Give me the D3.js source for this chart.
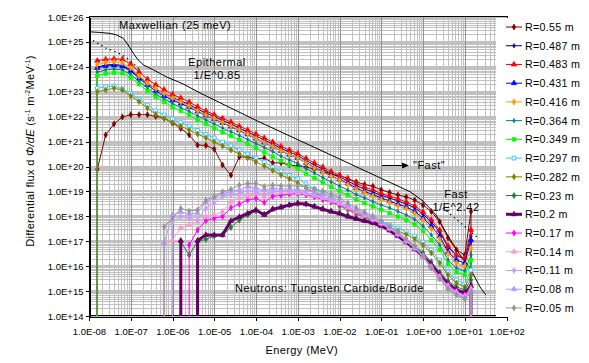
<!DOCTYPE html>
<html>
<head>
<meta charset="utf-8">
<script src="https://cdn.jsdelivr.net/npm/d3@7"></script>
<style>
  body { margin: 0; background: #fff; }
  svg { display: block; font-family: Arial, "Liberation Sans", sans-serif; }
</style>
</head>
<body>
<svg id="chart" width="589" height="363"></svg>
<script>
// energy grid (MeV), shared by all radius series
const energies = [1.0e-8, 1.58e-8, 2.51e-8, 3.98e-8, 6.31e-8, 1.0e-7, 1.58e-7, 2.51e-7, 3.98e-7, 6.31e-7,
  1.0e-6, 1.58e-6, 2.51e-6, 3.98e-6, 6.31e-6, 1.0e-5, 1.58e-5, 2.51e-5, 3.98e-5, 6.31e-5,
  1.0e-4, 1.58e-4, 2.51e-4, 3.98e-4, 6.31e-4, 1.0e-3, 1.58e-3, 2.51e-3, 3.98e-3, 6.31e-3,
  1.0e-2, 1.58e-2, 2.51e-2, 3.98e-2, 6.31e-2, 0.1, 0.158, 0.251, 0.398, 0.631,
  1.0, 1.58, 2.51, 3.98, 6.31, 10.0, 14.1, 15.0];

// flux values; 0 = empty bin (drops to the axis), null = no point
const r055 = [0, 7.7e19, 1.85e21, 5.1e21, 9.7e21, 1.2e22, 1.2e22, 1.2e22, 1.03e22, 8.8e21, 5.6e21, 3.35e21, 1.85e21, 7.3e20, 7.0e20, 5.0e20, 1.15e20, 4.5e19, 2.4e20, 2.4e20, 2.0e20, 2.2e20, 1.4e20, 1.4e20, 1.15e20, 1.05e20, 9.5e19, 7.9e19, 6.6e19, 5.0e19, 4.2e19, 3.3e19, 2.4e19, 1.9e19, 1.6e19, 1.15e19, 9.0e18, 7.2e18, 6.0e18, 4.5e18, 2.85e18, 1.55e18, 6.1e17, 1.35e17, 4.5e16, 2.8e16, 1.55e18, 0];
const r0487 = [0, 9.8e23, 1.19e24, 1.24e24, 1.14e24, 7.5e23, 3.9e23, 2.2e23, 1.3e23, 8.5e22, 5.9e22, 4.3e22, 3.1e22, 2.0e22, 1.4e22, 1.02e22, 7.0e21, 5.1e21, 3.5e21, 2.4e21, 1.68e21, 1.16e21, 8.0e20, 5.3e20, 3.8e20, 2.77e20, 1.74e20, 1.16e20, 7.9e19, 5.2e19, 3.8e19, 2.6e19, 1.73e19, 1.25e19, 9.5e18, 6.9e18, 5.5e18, 4.1e18, 3.1e18, 2.2e18, 1.24e18, 5.9e17, 2.35e17, 5.9e16, 2.6e16, 1.95e16, 1.6e17, 0];
const r0483 = [0, 1.75e24, 2.0e24, 2.1e24, 2.0e24, 1.3e24, 6.2e23, 3.2e23, 1.9e23, 1.2e23, 7.8e22, 5.6e22, 3.9e22, 2.5e22, 1.7e22, 1.2e22, 8.5e21, 6.1e21, 4.2e21, 2.9e21, 2.0e21, 1.4e21, 9.6e20, 6.4e20, 4.6e20, 3.3e20, 2.1e20, 1.4e20, 9.5e19, 6.3e19, 4.5e19, 3.2e19, 2.1e19, 1.5e19, 1.15e19, 8.2e18, 6.5e18, 5.0e18, 3.8e18, 2.6e18, 1.5e18, 7.2e17, 2.85e17, 6.5e16, 2.8e16, 2.1e16, 2.85e17, 0];
const r0431 = [0, 9.0e23, 1.08e24, 1.14e24, 1.04e24, 6.8e23, 3.4e23, 1.87e23, 1.07e23, 6.8e22, 4.7e22, 3.4e22, 2.45e22, 1.62e22, 1.12e22, 8.1e21, 5.6e21, 4.0e21, 2.8e21, 1.93e21, 1.33e21, 9.2e20, 6.3e20, 4.2e20, 3.0e20, 2.2e20, 1.38e20, 9.1e19, 6.3e19, 4.2e19, 3.0e19, 2.1e19, 1.37e19, 9.9e18, 7.5e18, 5.5e18, 4.1e18, 3.1e18, 2.4e18, 1.57e18, 8.6e17, 4.1e17, 1.6e17, 3.7e16, 1.77e16, 1.34e16, 1.12e17, 0];
const r0416 = [0, 1.24e24, 1.47e24, 1.6e24, 1.43e24, 9.0e23, 4.3e23, 2.2e23, 1.35e23, 8.5e22, 5.6e22, 3.9e22, 2.7e22, 1.7e22, 1.17e22, 8.4e21, 5.8e21, 4.2e21, 2.9e21, 2.0e21, 1.33e21, 9.2e20, 6.3e20, 4.2e20, 3.0e20, 2.2e20, 1.38e20, 8.7e19, 6.0e19, 4.0e19, 2.9e19, 1.9e19, 1.25e19, 9.0e18, 6.5e18, 4.7e18, 3.6e18, 2.6e18, 2.0e18, 1.3e18, 7.1e17, 3.1e17, 1.23e17, 3.1e16, 1.34e16, 1.02e16, 5.4e16, 0];
const r0364 = [0, 6.2e23, 7.5e23, 8.2e23, 7.5e23, 4.9e23, 2.6e23, 1.42e23, 8.1e22, 5.1e22, 3.4e22, 2.3e22, 1.62e22, 1.07e22, 7.4e21, 5.1e21, 3.5e21, 2.5e21, 1.76e21, 1.21e21, 8.4e20, 5.8e20, 4.0e20, 2.6e20, 1.83e20, 1.32e20, 8.3e19, 5.5e19, 3.6e19, 2.4e19, 1.65e19, 1.14e19, 7.5e18, 5.5e18, 3.9e18, 2.85e18, 2.2e18, 1.57e18, 1.14e18, 7.5e17, 4.1e17, 1.8e17, 7.1e16, 1.77e16, 8.4e15, 6.4e15, 2.8e16, 0];
const r0349 = [0, 4.4e23, 5.2e23, 5.8e23, 5.5e23, 3.7e23, 2.0e23, 1.08e23, 6.2e22, 3.9e22, 2.45e22, 1.7e22, 1.17e22, 7.4e21, 5.1e21, 3.5e21, 2.4e21, 1.68e21, 1.16e21, 8.0e20, 5.5e20, 3.65e20, 2.5e20, 1.67e20, 1.16e20, 8.3e19, 5.2e19, 3.46e19, 2.3e19, 1.5e19, 1.04e19, 7.2e18, 4.7e18, 3.4e18, 2.5e18, 1.8e18, 1.36e18, 9.8e17, 7.1e17, 4.7e17, 2.6e17, 1.12e17, 4.5e16, 1.22e16, 5.8e15, 4.4e15, 1.77e16, 0];
const r0297 = [0, 1.37e23, 1.6e23, 1.7e23, 1.3e23, 8.7e22, 5.1e22, 2.95e22, 1.7e22, 1.17e22, 8.1e21, 5.8e21, 4.2e21, 2.8e21, 1.93e21, 1.4e21, 9.6e20, 6.7e20, 4.6e20, 3.2e20, 2.2e20, 1.52e20, 9.5e19, 6.3e19, 4.4e19, 3.2e19, 2.0e19, 1.25e19, 8.3e18, 5.5e18, 3.4e18, 2.4e18, 1.64e18, 1.19e18, 8.6e17, 6.2e17, 4.7e17, 3.4e17, 2.45e17, 1.6e17, 9.3e16, 4.5e16, 1.77e16, 5.8e15, 2.8e15, 1.93e15, 7.0e15, 0];
const r0282 = [0, 1.01e23, 1.18e23, 1.37e23, 1.18e23, 6.8e22, 4.0e22, 2.2e22, 1.25e22, 8.4e21, 5.8e21, 4.2e21, 2.9e21, 2.0e21, 1.4e21, 9.6e20, 6.7e20, 4.6e20, 3.2e20, 2.2e20, 1.52e20, 1.05e20, 6.9e19, 4.56e19, 3.2e19, 2.2e19, 1.37e19, 9.0e18, 6.0e18, 3.9e18, 2.6e18, 1.8e18, 1.24e18, 9.0e17, 6.5e17, 4.7e17, 3.6e17, 2.6e17, 1.87e17, 1.23e17, 7.1e16, 3.4e16, 1.34e16, 4.4e15, 2.1e15, 1.46e15, 4.4e15, 0];
const r023 = [null, null, null, null, null, null, null, null, null, null, 0, 9.6e16, 2.8e16, 9.6e16, 1.2e17, 1.6e17, 1.8e17, 3.6e17, 7.1e17, 1.14e18, 1.64e18, 1.24e18, 2.0e18, 2.4e18, 2.85e18, 3.3e18, 3.1e18, 2.6e18, 2.05e18, 1.64e18, 1.36e18, 1.08e18, 8.6e17, 7.1e17, 5.9e17, 4.5e17, 3.1e17, 1.96e17, 1.12e17, 6.4e16, 3.4e16, 1.48e16, 5.8e15, 2.55e15, 1.46e15, 1.12e15, 2.8e15, 0];
const r02 = [null, null, null, null, null, null, null, null, null, null, 0, 1.06e17, 0, 1.06e17, 1.8e17, 1.8e17, 1.8e17, 6.5e17, 9.4e17, 1.32e18, 1.8e18, 1.14e18, 1.92e18, 2.3e18, 2.85e18, 3.3e18, 3.1e18, 2.45e18, 1.92e18, 1.55e18, 1.3e18, 9.8e17, 7.8e17, 6.5e17, 5.4e17, 4.1e17, 2.7e17, 1.6e17, 9.3e16, 4.9e16, 2.6e16, 1.12e16, 4.4e15, 1.93e15, 1.12e15, 8.4e14, 1.6e15, 0];
const r017 = [null, null, null, null, null, null, null, null, null, null, null, 0, 7.1e16, 2.8e17, 6.7e17, 8.3e17, 9.7e17, 2.2e18, 3.1e18, 4.5e18, 5.2e18, 3.6e18, 6.3e18, 6.9e18, 7.9e18, 8.3e18, 7.2e18, 6.0e18, 4.7e18, 3.75e18, 2.85e18, 2.05e18, 1.43e18, 1.03e18, 7.1e17, 4.9e17, 3.1e17, 1.8e17, 9.8e16, 5.1e16, 2.6e16, 1.02e16, 4.0e15, 1.76e15, 1.0e15, 7.0e14, 1.33e15, 0];
const r014 = [null, null, null, null, null, null, null, null, null, 0, 1.12e17, 3.4e17, 4.5e17, 6.1e17, 9.7e17, 1.14e18, 1.55e18, 3.9e18, 5.3e18, 6.3e18, 8.4e18, 6.1e18, 9.7e18, 9.5e18, 9.5e18, 9.0e18, 8.3e18, 6.9e18, 5.5e18, 4.3e18, 3.3e18, 2.25e18, 1.57e18, 1.08e18, 7.5e17, 5.2e17, 3.25e17, 1.96e17, 1.02e17, 5.4e16, 2.6e16, 9.3e15, 3.7e15, 1.6e15, 9.2e14, 6.3e14, 1.22e15, 0];
const r011 = [null, null, null, null, null, null, null, null, null, 0, 6.1e17, 9.7e17, 8.3e17, 7.1e17, 2.1e18, 3.4e18, 6.1e18, 7.2e18, 8.4e18, 1.04e19, 9.5e18, 7.9e18, 1.04e19, 9.9e18, 9.9e18, 9.5e18, 8.6e18, 7.2e18, 6.0e18, 4.7e18, 3.6e18, 2.5e18, 1.64e18, 1.14e18, 7.8e17, 5.4e17, 3.4e17, 1.96e17, 1.02e17, 5.4e16, 2.35e16, 8.4e15, 3.35e15, 1.46e15, 8.4e14, 5.8e14, 1.12e15, 0];
const r008 = [null, null, null, null, null, null, null, null, 0, 8.5e16, 1.14e18, 1.5e18, 1.24e18, 1.36e18, 3.8e18, 5.5e18, 7.9e18, 1.04e19, 1.14e19, 1.55e19, 1.37e19, 1.14e19, 1.37e19, 1.25e19, 1.25e19, 1.2e19, 1.09e19, 9.5e18, 7.9e18, 6.0e18, 4.3e18, 2.85e18, 1.9e18, 1.3e18, 9.0e17, 5.9e17, 3.7e17, 2.15e17, 1.12e17, 5.9e16, 2.35e16, 8.4e15, 3.05e15, 1.33e15, 7.6e14, 5.3e14, 1.0e15, 0];
const r005 = [null, null, null, null, null, null, null, null, 0, 3.8e17, 8.3e17, 2.1e18, 1.64e18, 1.8e18, 4.5e18, 6.1e18, 9.7e18, 1.22e19, 1.81e19, 2.1e19, 2.1e19, 1.55e19, 1.81e19, 1.65e19, 1.65e19, 1.65e19, 1.51e19, 1.25e19, 1.04e19, 7.9e18, 5.5e18, 3.4e18, 2.2e18, 1.5e18, 1.03e18, 6.5e17, 4.1e17, 2.35e17, 1.23e17, 6.4e16, 2.6e16, 8.4e15, 3.05e15, 1.21e15, 7.0e14, 4.8e14, 9.2e14, 0];

// reference curve: Maxwellian + 1/E^0.85 epithermal + fast fall-off
const refE = [1.0e-8, 1.8e-8, 3.2e-8, 4.6e-8, 6.6e-8, 8.7e-8, 1.15e-7, 1.5e-7, 2.0e-7, 3.5e-7, 7.3e-7, 1.8e-6, 4.6e-6, 1.0e-4, 1.0e-2, 0.49, 1.0, 2.05, 4.0, 7.7, 13.4, 23.2, 32];
const refFlux = [2.55e25, 2.4e25, 2.2e25, 1.9e25, 1.4e25, 7.5e24, 3.5e24, 1.9e24, 1.2e24, 7.5e23, 3.9e23, 2.05e23, 8.9e22, 7.1e21, 2.0e20, 9.7e18, 4.1e18, 1.14e18, 1.6e17, 2.8e16, 8.4e15, 1.46e15, 7.0e14];
// dotted fits
const thermalFitE = [1.0e-8, 1.58e-8, 2.51e-8, 3.98e-8, 6.31e-8, 1.0e-7, 1.58e-7];
const thermalFitFlux = [1.44e25, 9.0e24, 5.7e24, 4.3e24, 3.0e24, 1.7e24, 8.2e23];
const fastFitE = [3.0, 20.7];
const fastFitFlux = [2.2e18, 1.37e17];

const xDecades = d3.range(-8, 3);   // 1E-08 .. 1E+02
const yDecades = d3.range(14, 27);  // 1E+14 .. 1E+26

const series = [
  { name: "R=0.55 m", values: r055, color: "#800000", shape: "diamond" },
  { name: "R=0.487 m", values: r0487, color: "#000080", shape: "diamond", size: 6 },
  { name: "R=0.483 m", values: r0483, color: "#ff0000", shape: "triangle" },
  { name: "R=0.431 m", values: r0431, color: "#0000ff", shape: "triangle" },
  { name: "R=0.416 m", values: r0416, color: "#ff9900", shape: "diamond" },
  { name: "R=0.364 m", values: r0364, color: "#008080", shape: "diamond", size: 6 },
  { name: "R=0.349 m", values: r0349, color: "#00ff00", shape: "square" },
  { name: "R=0.297 m", values: r0297, color: "#33ccff", shape: "square", open: true },
  { name: "R=0.282 m", values: r0282, color: "#808000", shape: "diamond" },
  { name: "R=0.23 m", values: r023, color: "#217a33", shape: "diamond" },
  { name: "R=0.2 m", values: r02, color: "#660066", shape: "triangle", width: 3 },
  { name: "R=0.17 m", values: r017, color: "#ff00ff", shape: "diamond" },
  { name: "R=0.14 m", values: r014, color: "#ff99cc", shape: "triangle" },
  { name: "R=0.11 m", values: r011, color: "#cc99ff", shape: "diamond" },
  { name: "R=0.08 m", values: r008, color: "#b399ff", shape: "triangle" },
  { name: "R=0.05 m", values: r005, color: "#969696", shape: "diamond" }
];

const svg = d3.select("#chart");
const W = 589, H = 363;
const x = d3.scaleLog().domain([1e-8, 1e2]).range([89, 506.5]);
const y = d3.scaleLog().domain([1e14, 1e26]).range([316, 17]);
const [x0, x1] = x.range();
const [yb, yt] = y.range();

svg.append("rect").attr("width", W).attr("height", H).attr("fill", "#fff");

// gridlines
const grid = svg.append("g").attr("shape-rendering", "crispEdges");
xDecades.slice(0, -1).forEach(n => {
  for (let k = 2; k <= 9; k++) {
    const px = Math.round(x(k * Math.pow(10, n))) + 0.5;
    grid.append("line").attr("x1", px).attr("x2", px).attr("y1", yt).attr("y2", yb)
      .attr("stroke", "#c0c0c0");
  }
});
yDecades.slice(0, -1).forEach(n => {
  for (let k = 2; k <= 9; k++) {
    const py = Math.round(y(k * Math.pow(10, n))) + 0.5;
    grid.append("line").attr("x1", x0).attr("x2", x1).attr("y1", py).attr("y2", py)
      .attr("stroke", "#c0c0c0");
  }
});
yDecades.forEach(n => {
  const py = Math.round(y(Math.pow(10, n)));
  grid.append("line").attr("x1", x0).attr("x2", x1).attr("y1", py).attr("y2", py)
    .attr("stroke", "#c0c0c0").attr("stroke-width", 2);
});
xDecades.forEach(n => {
  const px = Math.round(x(Math.pow(10, n))) + 0.5;
  grid.append("line").attr("x1", px).attr("x2", px).attr("y1", yt).attr("y2", yb)
    .attr("stroke", "#909090");
});

// plot border
svg.append("rect").attr("x", x0 + 0.5).attr("y", yt - 0.5).attr("width", x1 - x0).attr("height", yb - yt)
  .attr("fill", "none").attr("stroke", "#000").attr("shape-rendering", "crispEdges");

svg.append("clipPath").attr("id", "plotclip").append("rect")
  .attr("x", x0).attr("y", yt).attr("width", x1 - x0).attr("height", yb - yt);
const plot = svg.append("g").attr("clip-path", "url(#plotclip)");

const line = d3.line();

// split a series into polylines; empty bins drop vertically to the axis
function pieces(vals, xs) {
  const out = [];
  let cur = [];
  vals.forEach((v, i) => {
    if (v == null) { if (cur.length) out.push(cur); cur = []; return; }
    if (v === 0) {
      if (cur.length) { cur.push([cur[cur.length - 1][0], yb + 2]); out.push(cur); cur = []; }
      return;
    }
    const p = [x(xs[i]), y(v)];
    if (!cur.length && i > 0 && vals[i - 1] === 0) cur.push([p[0], yb + 2]);
    cur.push(p);
  });
  if (cur.length) out.push(cur);
  return out;
}

// reference curves
plot.append("path").attr("d", line(refE.map((e, i) => [x(e), y(refFlux[i])])))
  .attr("fill", "none").attr("stroke", "#000").attr("stroke-width", 1);
[[thermalFitE, thermalFitFlux], [fastFitE, fastFitFlux]].forEach(([es, fs]) => {
  plot.append("path").attr("d", line(es.map((e, i) => [x(e), y(fs[i])])))
    .attr("fill", "none").attr("stroke", "#000").attr("stroke-width", 1.3)
    .attr("stroke-dasharray", "1.3,3.5");
});

const symbolType = { diamond: d3.symbolDiamond, triangle: d3.symbolTriangle, square: d3.symbolSquare };
function symbolPath(s) {
  const size = s.size || (s.shape === "diamond" ? 11 : s.shape === "square" ? 14 : 13);
  return d3.symbol().type(symbolType[s.shape]).size(size)();
}

series.forEach(s => {
  const g = plot.append("g");
  pieces(s.values, energies).forEach(pts => {
    g.append("path").attr("d", line(pts)).attr("fill", "none")
      .attr("stroke", s.color).attr("stroke-width", s.width || 1);
  });
  const sym = symbolPath(s);
  s.values.forEach((v, i) => {
    if (!v) return;
    g.append("path").attr("d", sym)
      .attr("transform", `translate(${x(energies[i])},${y(v)})`)
      .attr("fill", s.open ? "#fff" : s.color)
      .attr("stroke", s.color).attr("stroke-width", s.open ? 1 : 0.6);
  });
});

// axes
const expFmt = d => {
  const e = Math.round(Math.log10(d));
  return "1.0E" + (e < 0 ? "-" : "+") + String(Math.abs(e)).padStart(2, "0");
};
const yAxis = svg.append("g").attr("transform", `translate(${x0 + 0.5},0)`)
  .call(d3.axisLeft(y).tickValues(yDecades.map(n => Math.pow(10, n))).tickFormat(expFmt)
    .tickSize(4).tickSizeOuter(0).tickPadding(2));
const xAxis = svg.append("g").attr("transform", `translate(0,${yb + 0.5})`)
  .call(d3.axisBottom(x).tickValues(xDecades.map(n => Math.pow(10, n))).tickFormat(expFmt)
    .tickSize(4).tickSizeOuter(0).tickPadding(8));
[yAxis, xAxis].forEach(a => {
  a.selectAll("text").attr("font-size", 9.5).attr("fill", "#000")
    .attr("font-family", "Arial, 'Liberation Sans', sans-serif");
  a.selectAll("line, path").attr("stroke", "#000").attr("shape-rendering", "crispEdges");
});

// axis titles
svg.append("text").attr("x", (x0 + x1) / 2 + 4).attr("y", 354).attr("text-anchor", "middle")
  .attr("font-size", 11).attr("letter-spacing", 0.4).text("Energy (MeV)");
const yt2 = svg.append("text").attr("transform", "translate(34,151) rotate(-90)")
  .attr("text-anchor", "middle").attr("font-size", 11).attr("letter-spacing", 0.3);
yt2.append("tspan").text("Differential flux d ");
yt2.append("tspan").attr("font-style", "italic").text("Φ/dE");
yt2.append("tspan").text("  (s");
yt2.append("tspan").attr("font-size", 7).attr("dy", -4).text("-1");
yt2.append("tspan").attr("dy", 4).text(" m");
yt2.append("tspan").attr("font-size", 7).attr("dy", -4).text("-2");
yt2.append("tspan").attr("dy", 4).text("MeV");
yt2.append("tspan").attr("font-size", 7).attr("dy", -4).text("-1");
yt2.append("tspan").attr("dy", 4).text(")");

// annotations
const note = (tx, ty, str, anchor) => svg.append("text").attr("x", tx).attr("y", ty)
  .attr("text-anchor", anchor || "start").attr("font-size", 11).attr("letter-spacing", 0.5).text(str);
note(119, 29, "Maxwellian (25 meV)");
note(217, 66, "Epithermal", "middle");
note(217, 79, "1/E^0.85", "middle");
note(413, 169, "\"Fast\"");
note(456, 198, "Fast", "middle");
note(456, 211, "1/E^2.42", "middle");
note(235, 292, "Neutrons: Tungsten Carbide/Boride");
svg.append("line").attr("x1", 382).attr("x2", 403).attr("y1", 165.5).attr("y2", 165.5)
  .attr("stroke", "#000");
svg.append("path").attr("d", "M402,162.5L409,165.5L402,168.5Z").attr("fill", "#000");

// legend (overlaps right edge of plot)
const legend = svg.append("g");
legend.append("rect").attr("x", 496).attr("y", 18).attr("width", W - 496).attr("height", 299).attr("fill", "#fff");
series.forEach((s, i) => {
  const ly = 27 + i * 18.73;
  const g = legend.append("g").attr("transform", `translate(0,${ly})`);
  g.append("line").attr("x1", 506).attr("x2", 522).attr("y1", 0).attr("y2", 0)
    .attr("stroke", s.color).attr("stroke-width", s.width || 1);
  g.append("path").attr("d", symbolPath(s)).attr("transform", "translate(514,0)")
    .attr("fill", s.open ? "#fff" : s.color).attr("stroke", s.color).attr("stroke-width", s.open ? 1 : 0.6);
  g.append("text").attr("x", 525).attr("y", 4).attr("font-size", 10.7).attr("letter-spacing", 0.3).text(s.name);
});
</script>
</body>
</html>
